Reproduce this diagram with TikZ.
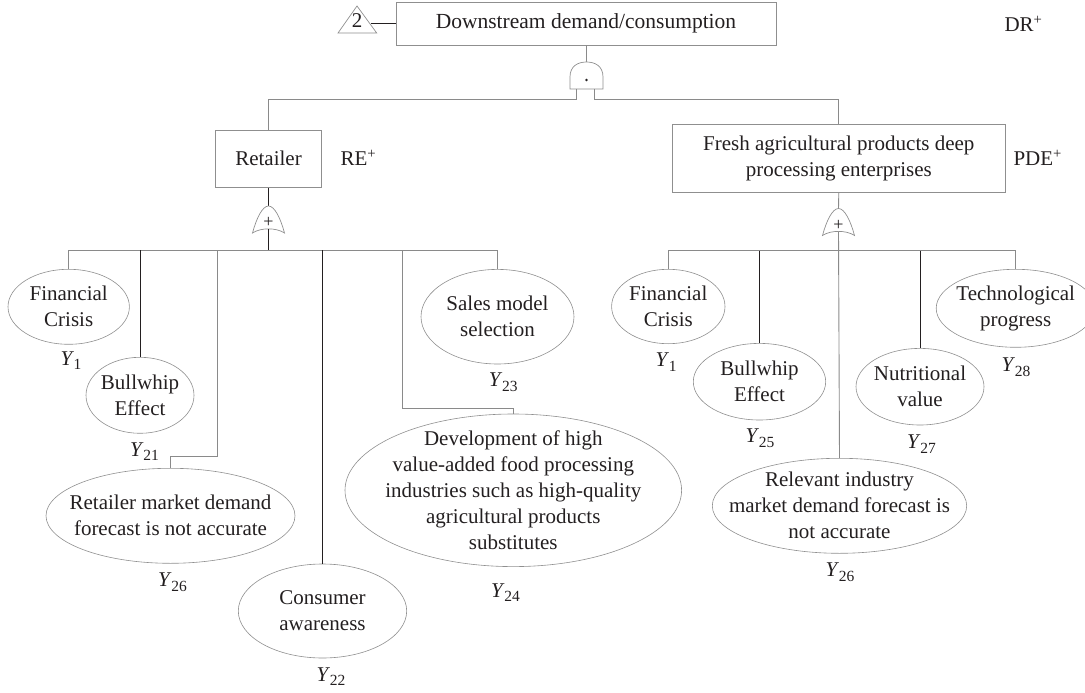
\documentclass[tikz,border=0pt]{standalone}
\usepackage{fontspec}
\setmainfont{Liberation Serif}
\usetikzlibrary{shapes.geometric}
\definecolor{ink}{HTML}{231F20}
\definecolor{wiregray}{HTML}{8A8A8A}
\definecolor{edgegray}{HTML}{8F8F8F}

% italic Y with a lowered index
\newcommand\ylab[1]{\textit{Y}\kern-0.3pt\raisebox{-4.8pt}{\fontsize{15.5}{15.5}\selectfont #1}}
% basic event: an ellipse of given size (name) with its text (name-t) on top
\newcommand\basicevent[6]{%
  \node[ev, minimum width=#4pt, minimum height=#5pt] (#1) at (#2,#3) {};
  \node[evtext] (#1-t) at (#1.center) {#6};
}

\begin{document}
\begin{tikzpicture}[x=1pt,y=-1pt,
  every node/.style={text=ink, font=\fontsize{21}{26}\selectfont},
  wire/.style={draw=wiregray, line width=0.9pt},
  blackwire/.style={draw=ink, line width=0.9pt},
  evbox/.style={rectangle, draw=edgegray, line width=0.9pt, inner sep=0pt, align=center},
  ev/.style={ellipse, draw=edgegray, line width=0.6pt, inner sep=0pt},
  evtext/.style={inner sep=0pt, align=center},
  ylabel/.style={anchor=base, font=\fontsize{21}{21}\selectfont},
  tag/.style={anchor=west},
  gateshape/.style={draw=edgegray, line width=0.7pt, fill=white},
  orgate/.pic={
    \draw[gateshape] (-16,27) .. controls (-12,12) and (-6,0) .. (0,0)
       .. controls (6,0) and (12,12) .. (16,27)
       .. controls (8,21.5) and (-8,21.5) .. cycle;
    \node[font=\fontsize{18}{18}\selectfont, inner sep=0pt] (plus) at (0,16.5) {+};
  }
]
\useasboundingbox (0,0) rectangle (1085,693);
\clip (0,0) rectangle (1085,693);

% ---------- top event ----------
\node[evbox, minimum width=380pt, minimum height=43pt, font=\fontsize{21.5}{26}\selectfont] (top) at (586,23.5) {Downstream demand/consumption};
\node[tag] (dr) at (1001,24) {DR\textsuperscript{+}};
\draw[draw=edgegray, line width=0.7pt] (338,33) -- (357,6) -- (376.7,33) -- cycle;
\node[inner sep=0pt] (tri) at (357,21) {2};
\coordinate (triR) at (371,23.5);
\draw[blackwire] (triR) -- (top.west);

% AND gate
\coordinate (andtop) at (586.5,62);
\coordinate (andL) at (576,89);
\coordinate (andR) at (594,89);
\draw[wire] (top.south) -- (top.south |- andtop);
\draw[gateshape] (570,89) -- (570,77) .. controls (570,66) and (578,62) .. (586.5,62)
   .. controls (595,62) and (603,66) .. (603,77) -- (603,89) -- cycle;
\fill[ink] (586.5,80) circle (1.3pt);

% ---------- second level ----------
\node[evbox, minimum width=106.4pt, minimum height=57.3pt] (retail) at (268.5,158.7) {Retailer};
\node[tag] (re) at (337,158) {RE\textsuperscript{+}};
\node[evbox, minimum width=333.7pt, minimum height=68.3pt] (pde) at (838.8,158.2)
  {Fresh agricultural products deep\\processing enterprises};
\node[tag] (pdetag) at (1010,158) {PDE\textsuperscript{+}};

\coordinate (busTop) at (0,99.5);
\draw[wire] (andL) -- (andL |- busTop) -- (retail.north |- busTop) -- (retail.north);
\draw[wire] (andR) -- (andR |- busTop) -- (pde.north |- busTop) -- (pde.north);

% OR gates
\coordinate (orLtop) at (268.5,206);
\coordinate (orLbot) at (268.5,229);
\coordinate (orRtop) at (838.5,208.5);
\coordinate (orRbot) at (838.5,231.5);
\draw[blackwire] (retail.south) -- (orLtop);
\draw[wire] (pde.south) -- (orRtop);
\pic (orL) at (orLtop) {orgate};
\pic (orR) at (orRtop) {orgate};

% ---------- retailer causes ----------
\basicevent{fc1}{68.7}{306.8}{121.4}{75}{Financial\\Crisis}
\basicevent{bw1}{140}{395.3}{108}{76}{Bullwhip\\Effect}
\basicevent{rmd}{170.5}{515.8}{249}{95}{Retailer market demand\\forecast is not accurate}
\basicevent{ca}{322.5}{611}{168.4}{94}{Consumer\\awareness}
\basicevent{dev}{513.3}{490.3}{336.6}{152.6}{Development of high\\value-added food processing\\industries such as high-quality\\agricultural products\\substitutes}
\basicevent{sms}{497.5}{316.7}{153}{94.6}{Sales model\\selection}

\node[ylabel] (y1a) at (71,365) {\ylab{1}};
\node[ylabel] (y21) at (144.5,456) {\ylab{21}};
\node[ylabel] (y26a) at (172.5,586.5) {\ylab{26}};
\node[ylabel] (y22) at (331,681) {\ylab{22}};
\node[ylabel] (y24) at (505.5,597) {\ylab{24}};
\node[ylabel] (y23) at (503.3,386.5) {\ylab{23}};

\coordinate (busL) at (0,250);
\coordinate (rmdKnee) at (217.7,456);
\coordinate (devKnee) at (402.5,408.3);
\draw[blackwire] (orLbot) -- (orLbot |- busL);
\draw[wire] (fc1.north) -- (fc1.north |- busL) -- (sms.north |- busL) -- (sms.north);
\draw[blackwire] (bw1.north |- busL) -- (bw1.north);
\draw[wire] (rmdKnee |- busL) -- (rmdKnee) -- (rmd.north |- rmdKnee) -- (rmd.north);
\draw[blackwire] (ca.north |- busL) -- (ca.north);
\draw[wire] (devKnee |- busL) -- (devKnee) -- (dev.north |- devKnee) -- (dev.north);

% ---------- processing enterprise causes ----------
\basicevent{fc2}{668.3}{306.5}{113.4}{74.4}{Financial\\Crisis}
\basicevent{bw2}{759.5}{381.7}{132.4}{76.6}{Bullwhip\\Effect}
\basicevent{rel}{839.5}{505.8}{254.4}{95}{Relevant industry\\market demand forecast is\\not accurate}
\basicevent{nv}{920}{386.7}{128}{76.6}{Nutritional\\value}
\basicevent{tp}{1015.7}{308.3}{159}{78}{Technological\\progress}

\node[ylabel] (y1b) at (666,366.5) {\ylab{1}};
\node[ylabel] (y25) at (760,442.7) {\ylab{25}};
\node[ylabel] (y26b) at (840,576.7) {\ylab{26}};
\node[ylabel] (y27) at (921.5,448.3) {\ylab{27}};
\node[ylabel] (y28) at (1016,371.7) {\ylab{28}};

\coordinate (busR) at (0,250.5);
\draw[wire] (fc2.north) -- (fc2.north |- busR) -- (tp.north |- busR) -- (tp.north);
\draw[blackwire] (bw2.north |- busR) -- (bw2.north);
\draw[wire] (orRbot) -- (rel.north);
\draw[blackwire] (nv.north |- busR) -- (nv.north);
\end{tikzpicture}
\end{document}
